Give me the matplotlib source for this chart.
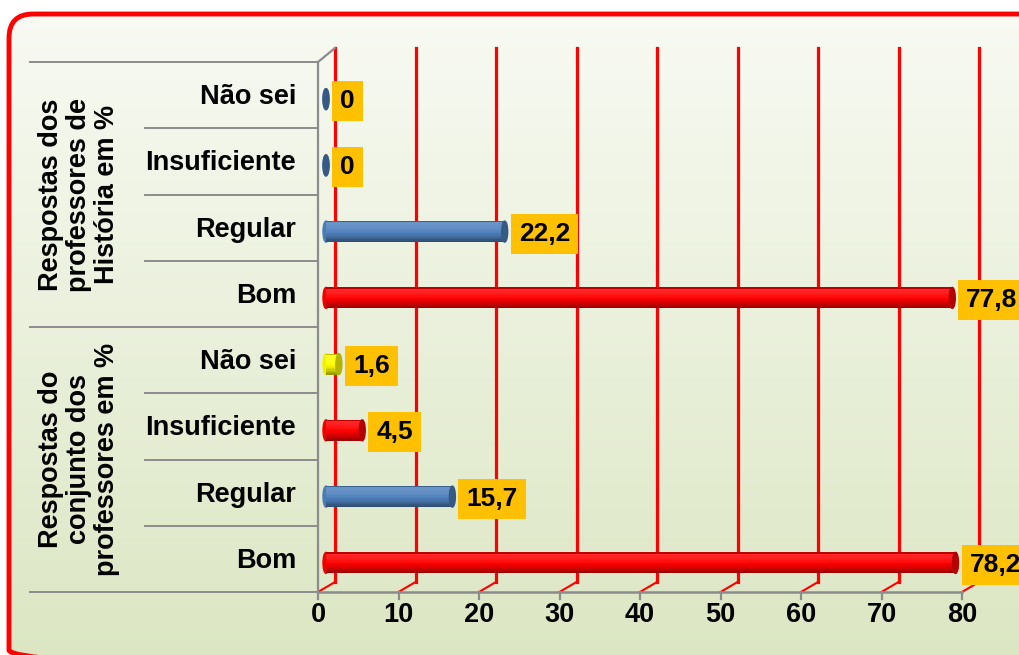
import numpy as np
import matplotlib.pyplot as plt
from matplotlib.patches import FancyBboxPatch, Ellipse
from matplotlib.colors import to_rgb

plt.rcParams['font.family'] = ['Liberation Sans', 'DejaVu Sans']
plt.rcParams['font.weight'] = 'bold'

# data, bottom to top
categories = ["Bom", "Regular", "Insuficiente", "Não sei",
              "Bom", "Regular", "Insuficiente", "Não sei"]
values = [78.2, 15.7, 4.5, 1.6, 77.8, 22.2, 0, 0]
value_labels = ["78,2", "15,7", "4,5", "1,6", "77,8", "22,2", "0", "0"]
bar_colors = ["#FF0000", "#4F81BD", "#FF0000", "#FFFF00",
              "#FF0000", "#4F81BD", "#4F81BD", "#4F81BD"]
groups = ["Respostas do\nconjunto dos\nprofessores em %",
          "Respostas dos\nprofessores de\nHistória em %"]
group_centers = [1.5, 5.5]
xticks = [0, 10, 20, 30, 40, 50, 60, 70, 80]

W, H = 1019, 655
fig = plt.figure(figsize=(W / 100, H / 100), dpi=100)

# background frame
bg = fig.add_axes([0, 0, 1, 1], zorder=-10)
bg.set_xlim(0, W)
bg.set_ylim(H, 0)
bg.axis('off')
frame = FancyBboxPatch((9, 14), 1040, 660, boxstyle="round,pad=0,rounding_size=24",
                       fc='none', ec='#FF0000', lw=3.5, zorder=3)
bg.add_patch(frame)
top_c = np.array([248, 250, 243]) / 255
bot_c = np.array([219, 230, 194]) / 255
t = np.linspace(0, 1, 256)[:, None]
grad = top_c[None, None, :] * (1 - t[:, :, None]) + bot_c[None, None, :] * t[:, :, None]
grad = np.repeat(grad, 2, axis=1)
im = bg.imshow(grad, extent=[9, 1049, 674, 14], aspect='auto', zorder=1)
clip = FancyBboxPatch((9, 14), 1040, 660, boxstyle="round,pad=0,rounding_size=24",
                      fc='none', ec='none', transform=bg.transData)
bg.add_patch(clip)
im.set_clip_path(clip)

# main axes: x=0 at px 318, x=80 at px 962; y from 592 (bottom) to 62 (top)
ax = fig.add_axes([318 / W, 1 - 592 / H, 644 / W, 530 / H])
ax.set_xlim(0, 80)
ax.set_ylim(-0.5, 7.5)
ax.axis('off')
ax.patch.set_alpha(0)

px_x = 80 / 644          # data units per pixel, x
px_y = 8 / 530           # data units per pixel, y
ddx = 17 * px_x
gray = '#8C8C8C'
fs = 19.5

# red gridlines with depth slant
for v in xticks:
    ax.plot([v, v + ddx], [-0.5, -0.5 + 10 * px_y], color='#FF0000', lw=1.5,
            clip_on=False, zorder=2)
    ax.plot([v + ddx, v + ddx], [-0.5 + 10 * px_y, 7.5 + 14 * px_y],
            color='#FF0000', lw=2.3, clip_on=False, zorder=2)

# walls / axis lines
ax.plot([0, 0], [-0.5, 7.5], color=gray, lw=1.6, clip_on=False, zorder=3)
ax.plot([0, ddx], [7.5, 7.5 + 14 * px_y], color=gray, lw=1.6, clip_on=False, zorder=3)
ax.plot([0, 80], [-0.5, -0.5], color=gray, lw=1.8, clip_on=False, zorder=3)
for v in xticks:
    ax.plot([v, v], [-0.5, -0.5 - 7 * px_y], color=gray, lw=1.6, clip_on=False, zorder=3)
    ax.text(v, -0.5 - 23 * px_y, str(v), ha='center', va='center', fontsize=fs,
            fontweight='bold')

# category separators
ytr = ax.get_yaxis_transform()
cat_left = (145 - 318) / 644
grp_left = (30 - 318) / 644
for yv in [0.5, 1.5, 2.5, 4.5, 5.5, 6.5]:
    ax.plot([cat_left, 0], [yv, yv], transform=ytr, color=gray, lw=1.4, clip_on=False)
for yv in [-0.5, 3.5, 7.5]:
    ax.plot([grp_left, 0], [yv, yv], transform=ytr, color=gray, lw=1.4, clip_on=False)

for i, name in enumerate(categories):
    ax.text((296 - 318) / 644, i - 0.03, name, transform=ytr, ha='right', va='center',
            fontsize=fs, fontweight='bold')
for yc, g in zip(group_centers, groups):
    ax.text((79 - 318) / 644, yc, g, transform=ytr, ha='center', va='center',
            rotation=90, fontsize=fs, fontweight='bold', linespacing=1.08,
            multialignment='center')


def shade(c, f):
    c = np.array(to_rgb(c))
    if f < 0:
        return tuple(c + (1 - c) * (-f))
    return tuple(c * (1 - f))


# cylinder bars
bar_h = 21 * px_y
x0 = 8 * px_x
y_off = -4 * px_y
cap_w = 6 * px_x
n_layers = 16
for i, (v, c, lbl) in enumerate(zip(values, bar_colors, value_labels)):
    yc = i + y_off
    for k in range(n_layers):
        f = k / (n_layers - 1)
        amt = -0.15 + 0.55 * f ** 2 if f > 0.06 else 0.25
        yk = yc + bar_h / 2 - (k + 0.5) * bar_h / n_layers
        ax.barh(yk, v, left=x0, height=bar_h / n_layers * 1.05,
                color=shade(c, amt), lw=0, zorder=4)
    ax.add_patch(Ellipse((x0, yc), cap_w, bar_h, color=shade(c, 0.05), zorder=3.9,
                         clip_on=False))
    ax.add_patch(Ellipse((x0 + v, yc), cap_w, bar_h, color=shade(c, 0.3), zorder=5,
                         clip_on=False))
    ax.annotate(lbl, xy=(x0 + v + cap_w / 2, yc), xytext=(11, -2),
                textcoords='offset pixels', ha='left', va='center',
                fontsize=fs - 0.5, fontweight='bold', zorder=6,
                bbox=dict(boxstyle='square,pad=0.3', fc='#FFC000', ec='none'),
                annotation_clip=False)

fig.savefig('out.png', dpi=100)
